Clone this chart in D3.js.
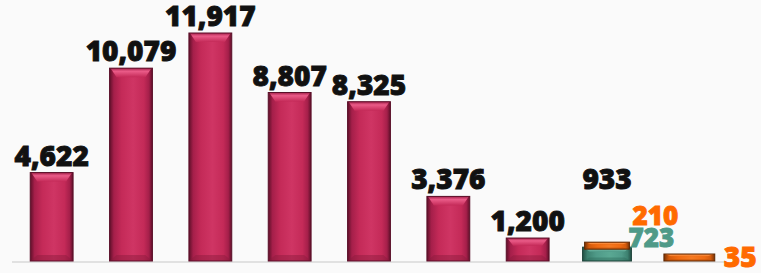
<!DOCTYPE html>
<html>
<head>
<meta charset="utf-8">
<script src="https://cdn.jsdelivr.net/npm/d3@7"></script>
<style>
  body { margin: 0; background: #fafafa; }
  svg { display: block; }
  .label { font-family: "Open Sans", sans-serif; font-weight: 800; stroke-width: 0.9px; }
</style>
</head>
<body>
<svg width="761" height="273"></svg>
<script>
var categories = ["A", "B", "C", "D", "E", "F", "G", "H", "I"];
var mainValues = [4622, 10079, 11917, 8807, 8325, 3376, 1200, null, null];
var tealValues = [null, null, null, null, null, null, null, 723, null];
var orangeValues = [null, null, null, null, null, null, null, 210, 35];

var svg = d3.select("svg"),
  width = +svg.attr("width"),
  height = +svg.attr("height");

var x = d3.scaleBand().domain(categories).range([12, 726])
  .paddingInner(0.46).paddingOuter(0.23);
var y = d3.scaleLinear().domain([0, 11917]).range([261, 33]);

var fmt = d3.format(",");

// baseline
svg.append("line")
  .attr("x1", 12).attr("x2", 725)
  .attr("y1", 262).attr("y2", 262)
  .style("stroke", "#d9d9d9").style("stroke-width", 1.5);

var palettes = {
  crimson: { edge: "#5e1029", mid: "#a51f4a", face: "#c42a58", light: "#cf3564", top: "#ea5b88", bottom: "#8a1a3c", stroke: "#5a0f28" },
  teal: { edge: "#234f44", mid: "#3d8170", face: "#4f9a88", light: "#5aa893", top: "#7cc2ae", bottom: "#2f6b5c", stroke: "#1d4239" },
  orange: { edge: "#7a3305", mid: "#d35a0c", face: "#ee6a12", light: "#f57a22", top: "#ff9a4e", bottom: "#b04805", stroke: "#5e2804" }
};

var defs = svg.append("defs");
Object.keys(palettes).forEach(function(k) {
  var c = palettes[k];
  var gr = defs.append("linearGradient").attr("id", "face-" + k)
    .attr("x1", 0).attr("x2", 1).attr("y1", 0).attr("y2", 0);
  [[0, c.edge], [0.1, c.mid], [0.28, c.face], [0.55, c.light], [0.8, c.face], [0.92, c.mid], [1, c.edge]]
    .forEach(function(s) { gr.append("stop").attr("offset", s[0]).attr("stop-color", s[1]); });
  var tg = defs.append("linearGradient").attr("id", "top-" + k)
    .attr("x1", 0).attr("x2", 0).attr("y1", 0).attr("y2", 1);
  tg.append("stop").attr("offset", 0).attr("stop-color", c.mid);
  tg.append("stop").attr("offset", 0.35).attr("stop-color", c.top);
  tg.append("stop").attr("offset", 1).attr("stop-color", c.face);
});

function bevelBar(g, bx, by, w, h, k) {
  var c = palettes[k];
  var t = Math.min(9, h / 3), s = Math.min(7, w / 6), b = Math.min(6, h / 4);
  var pts = function(a) { return a.map(function(p) { return p.join(","); }).join(" "); };
  g.append("rect").attr("x", bx).attr("y", by).attr("width", w).attr("height", h)
    .style("fill", "url(#face-" + k + ")");
  // bottom bevel
  g.append("polygon").style("fill", c.bottom).style("opacity", 0.45)
    .attr("points", pts([[bx, by + h], [bx + s, by + h - b], [bx + w - s, by + h - b], [bx + w, by + h]]));
  // top highlight bevel
  g.append("polygon").style("fill", "url(#top-" + k + ")")
    .attr("points", pts([[bx + 1, by], [bx + w - 1, by], [bx + w - s, by + t], [bx + s, by + t]]));
  g.append("rect").attr("x", bx).attr("y", by).attr("width", w).attr("height", h)
    .style("fill", "none").style("stroke", c.stroke).style("stroke-width", 1);
}

var bars = svg.append("g");

function label(tx, ty, txt, size, color, anchor) {
  svg.append("text").attr("class", "label")
    .attr("x", tx).attr("y", ty)
    .attr("text-anchor", anchor || "middle")
    .style("font-size", size + "px")
    .style("fill", color).style("stroke", color)
    .text(txt);
}

// main series
categories.forEach(function(cat, i) {
  var v = mainValues[i];
  if (v == null) return;
  bevelBar(bars, x(cat), y(v), x.bandwidth(), y(0) - y(v), "crimson");
  label(x(cat) + x.bandwidth() / 2, y(v) - 7, fmt(v), 28, "#111");
});

// stacked / secondary series
var wide = x.bandwidth() * 1.14;
var minH = 7;
categories.forEach(function(cat, i) {
  var tv = tealValues[i] || 0, ov = orangeValues[i] || 0;
  if (!tv && !ov) return;
  var bx = x(cat) + x.bandwidth() / 2 - wide / 2;
  if (tv) bevelBar(bars, bx, y(tv), wide, y(0) - y(tv), "teal");
  if (ov) {
    var h = Math.max(minH, y(tv) - y(tv + ov));
    if (tv) bevelBar(bars, bx + 2, y(tv) - h + 2, wide - 4, h, "orange");
    else bevelBar(bars, bx + 2, y(0) - h, wide + 2, h, "orange");
  }
  var right = bx + wide;
  var top = y(tv + ov);
  if (tv && ov) {
    label(right - 3, top + 4, fmt(tv), 26, "#4f9a88", "start");
    label(right + 1, top - 18, fmt(ov), 26, "#ff6a00", "start");
    label(bx + wide / 2, top - 54, fmt(tv + ov), 28, "#111");
  } else {
    label(right + 13, y(0) + 6, fmt(ov || tv), 28, "#ff6a00", "start");
  }
});
</script>
</body>
</html>
